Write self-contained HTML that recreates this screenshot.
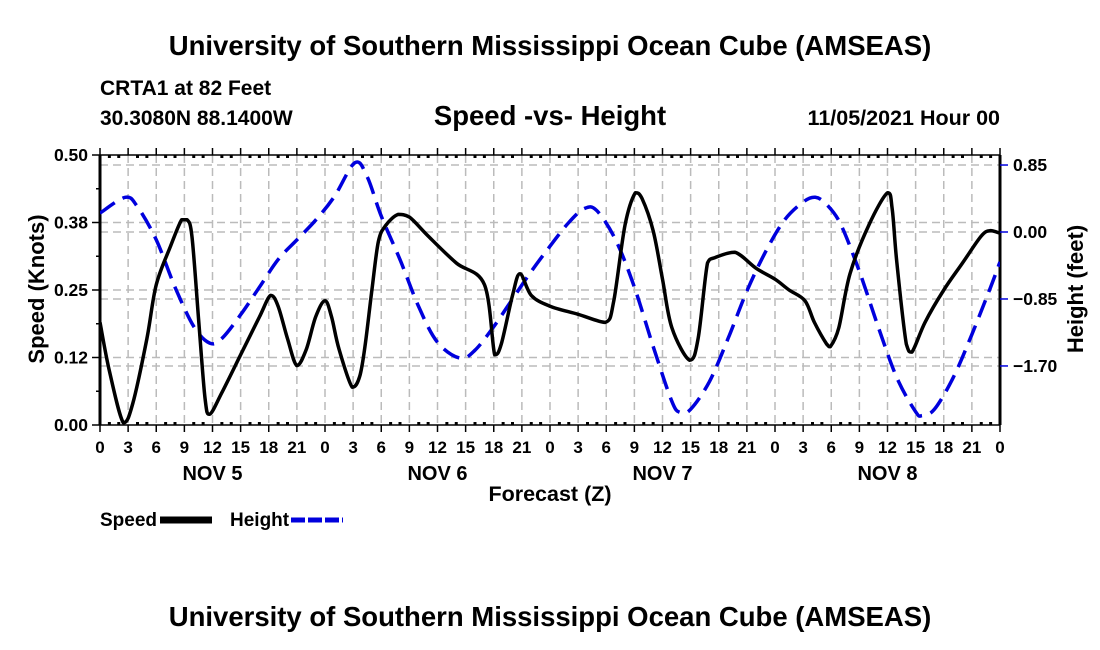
<!DOCTYPE html>
<html><head><meta charset="utf-8"><style>
html,body{margin:0;padding:0;background:#fff;}
svg{display:block;font-family:"Liberation Sans",sans-serif;font-weight:bold;}
</style></head><body>
<svg id="c" width="1100" height="650" viewBox="0 0 1100 650">
<defs><clipPath id="plotclip"><rect x="100" y="150" width="900" height="277"/></clipPath></defs>
<text x="550" y="55" text-anchor="middle" font-size="27.5">University of Southern Mississippi Ocean Cube (AMSEAS)</text>
<text x="100" y="95" font-size="21">CRTA1 at 82 Feet</text>
<text x="100" y="125" font-size="21">30.3080N  88.1400W</text>
<text x="550" y="125" text-anchor="middle" font-size="27.5">Speed -vs- Height</text>
<text x="1000" y="125" text-anchor="end" font-size="21.5">11/05/2021 Hour 00</text>
<g id="grid"></g>
<g id="axes"></g>
<g id="series" clip-path="url(#plotclip)"></g>
<text x="550" y="501" text-anchor="middle" font-size="21.5">Forecast (Z)</text>
<text transform="translate(44,289) rotate(-90)" text-anchor="middle" font-size="22">Speed (Knots)</text>
<text transform="translate(1083,289) rotate(-90)" text-anchor="middle" font-size="22">Height (feet)</text>
<g>
<text x="100" y="526" font-size="19">Speed</text>
<line x1="160" y1="520" x2="212" y2="520" stroke="#000" stroke-width="7"/>
<text x="230" y="526" font-size="19">Height</text>
<line x1="291" y1="520" x2="343" y2="520" stroke="#0000dd" stroke-width="5" stroke-dasharray="14,3"/>
</g>
<text x="550" y="626" text-anchor="middle" font-size="27.5">University of Southern Mississippi Ocean Cube (AMSEAS)</text>
</svg>
<script>
const speedHours=[0,1,2.5,3.5,5,6,7.5,8.7,9.3,9.8,10.5,11.2,11.7,13,15,17,18.2,19,20,21,22,23,24,24.7,25.5,26.9,27.7,28.3,29,29.7,30.5,31.8,33,35,38,41,42.1,42.8,44,44.8,46,48,51,53.9,54.8,56,57.1,57.8,59,60,61,62.9,63.8,64.8,65.6,67.7,70,72,73.5,75.2,76.2,77.5,77.9,78.8,80,82,84,84.5,85,86,86.6,88,90,92,94,95,96];
const speedValues=[0.19,0.10,0.004,0.04,0.16,0.26,0.33,0.38,0.38,0.35,0.2,0.05,0.02,0.06,0.13,0.2,0.24,0.22,0.16,0.11,0.14,0.2,0.23,0.2,0.14,0.07,0.09,0.15,0.25,0.34,0.37,0.39,0.385,0.35,0.3,0.26,0.13,0.15,0.24,0.28,0.24,0.22,0.205,0.19,0.23,0.37,0.43,0.42,0.36,0.27,0.18,0.12,0.16,0.3,0.31,0.32,0.29,0.27,0.25,0.23,0.19,0.15,0.145,0.18,0.28,0.37,0.43,0.40,0.3,0.15,0.135,0.19,0.25,0.3,0.35,0.36,0.355];
const heightHours=[0,2.7,4,6,8,10,11.7,13,15,17,19,21,23,25,27.2,28.5,30,32,34,36,38.4,40,42,44,46,48,50,51.7,53,55,57,59,61,61.9,63,65,67,69,71,73,75,76.3,77.5,79,81,83,85,87,87.7,89,91,93,95,96];
const heightValues=[0.24,0.44,0.32,-0.1,-0.7,-1.2,-1.41,-1.35,-1.05,-0.7,-0.35,-0.1,0.15,0.45,0.88,0.7,0.2,-0.35,-0.95,-1.4,-1.6,-1.5,-1.2,-0.85,-0.5,-0.18,0.12,0.3,0.27,-0.1,-0.7,-1.45,-2.15,-2.29,-2.25,-1.9,-1.35,-0.75,-0.25,0.15,0.38,0.44,0.35,0.1,-0.5,-1.2,-1.85,-2.28,-2.33,-2.25,-1.85,-1.3,-0.7,-0.38];
const speedTicks=[0,0.125,0.25,0.375,0.5];
const speedTickLabels=["0.00","0.12","0.25","0.38","0.50"];
const heightTicks=[0.85,0,-0.85,-1.7];
const heightTickLabels=["0.85","0.00","\u22120.85","\u22121.70"];
const dayLabels=["NOV 5","NOV 6","NOV 7","NOV 8"];

const L=100,R=1000,T=155,B=425;
const xS=h=>L+h*(R-L)/96;
const yS=v=>B-v*(B-T)/0.5;
const yH=v=>232-v*78.8;
const NS="http://www.w3.org/2000/svg";
function mk(tag,attrs,parent){const e=document.createElementNS(NS,tag);for(const k in attrs)e.setAttribute(k,attrs[k]);parent.appendChild(e);return e;}
const grid=document.getElementById('grid'),axes=document.getElementById('axes'),ser=document.getElementById('series');
const gs={stroke:"#bbb","stroke-width":1.5,"stroke-dasharray":"8,5"};
for(let h=3;h<96;h+=3){const l=mk('line',Object.assign({x1:xS(h),x2:xS(h),y1:T,y2:B},gs),grid);

}
speedTicks.slice(1,4).forEach(v=>{const l=mk('line',Object.assign({x1:L,x2:R,y1:yS(v),y2:yS(v)},gs),grid);

});
heightTicks.forEach(v=>{const l=mk('line',Object.assign({x1:L,x2:R,y1:yH(v),y2:yH(v)},gs),grid);

});
[[L,T,L,B,3],[R,T,R,B,3],[L,T,R,T,1.5],[L,B,R,B,1.5]].forEach(a=>{const l=mk('line',{x1:a[0],y1:a[1],x2:a[2],y2:a[3],stroke:"#000","stroke-width":a[4]},axes);

});
for(let h=0;h<=96;h++){
 const x=xS(h),maj=h%3==0;
 mk('line',{x1:x,x2:x,y1:T-(maj?7:0),y2:T+(maj?0:3),stroke:"#000","stroke-width":maj?1.5:3},axes);
 mk('line',{x1:x,x2:x,y1:B+(maj?7:0),y2:B-(maj?0:3),stroke:"#000","stroke-width":maj?1.5:3},axes);
 if(maj){const t=mk('text',{x:x,y:453,"text-anchor":"middle","font-size":17},axes);t.textContent=String(h%24);
 
 }
}
dayLabels.forEach((d,i)=>{const t=mk('text',{x:xS(i*24+12),y:480,"text-anchor":"middle","font-size":20},axes);t.textContent=d;

});
speedTicks.forEach((v,i)=>{const y=yS(v);mk('line',{x1:L-8,x2:L,y1:y,y2:y,stroke:"#000","stroke-width":1.5},axes);
const t=mk('text',{x:88,y:y+6,"text-anchor":"end","font-size":17.5},axes);t.textContent=speedTickLabels[i];

});
for(let v=0.0625;v<0.5;v+=0.125){mk('line',{x1:L-4,x2:L,y1:yS(v),y2:yS(v),stroke:"#000","stroke-width":1.5},axes);}
heightTicks.forEach((v,i)=>{const y=yH(v);mk('line',{x1:R,x2:R+8,y1:y,y2:y,stroke:"#0000dd","stroke-width":1.5},axes);
const t=mk('text',{x:1013,y:y+6,"font-size":17.5},axes);t.textContent=heightTickLabels[i];

});
function smooth(xs,ys,clamp){let p=[];for(let i=0;i<xs.length;i++)p.push([xs[i],ys[i]]);
 let d="M"+p[0][0].toFixed(1)+","+p[0][1].toFixed(1);
 for(let i=0;i<p.length-1;i++){const p0=p[i-1]||p[i],p1=p[i],p2=p[i+1],p3=p[i+2]||p2;
  const c1=[p1[0]+(p2[0]-p0[0])/6,p1[1]+(p2[1]-p0[1])/6],c2=[p2[0]-(p3[0]-p1[0])/6,p2[1]-(p3[1]-p1[1])/6];
  if(clamp){const lo=Math.min(p1[1],p2[1]),hi=Math.max(p1[1],p2[1]);c1[1]=Math.max(lo,Math.min(hi,c1[1]));c2[1]=Math.max(lo,Math.min(hi,c2[1]));}
  d+=" C"+c1.map(n=>n.toFixed(1))+" "+c2.map(n=>n.toFixed(1))+" "+p2[0].toFixed(1)+","+p2[1].toFixed(1);}
 return d;}
const hp=mk('path',{d:smooth(heightHours.map(xS),heightValues.map(yH),false),fill:"none",stroke:"#0000dd","stroke-width":3.5,"stroke-dasharray":"18,9"},ser);


const sp=mk('path',{d:smooth(speedHours.map(xS),speedValues.map(yS),true),fill:"none",stroke:"#000","stroke-width":3.5,"stroke-linejoin":"round"},ser);


</script>
</body></html>
